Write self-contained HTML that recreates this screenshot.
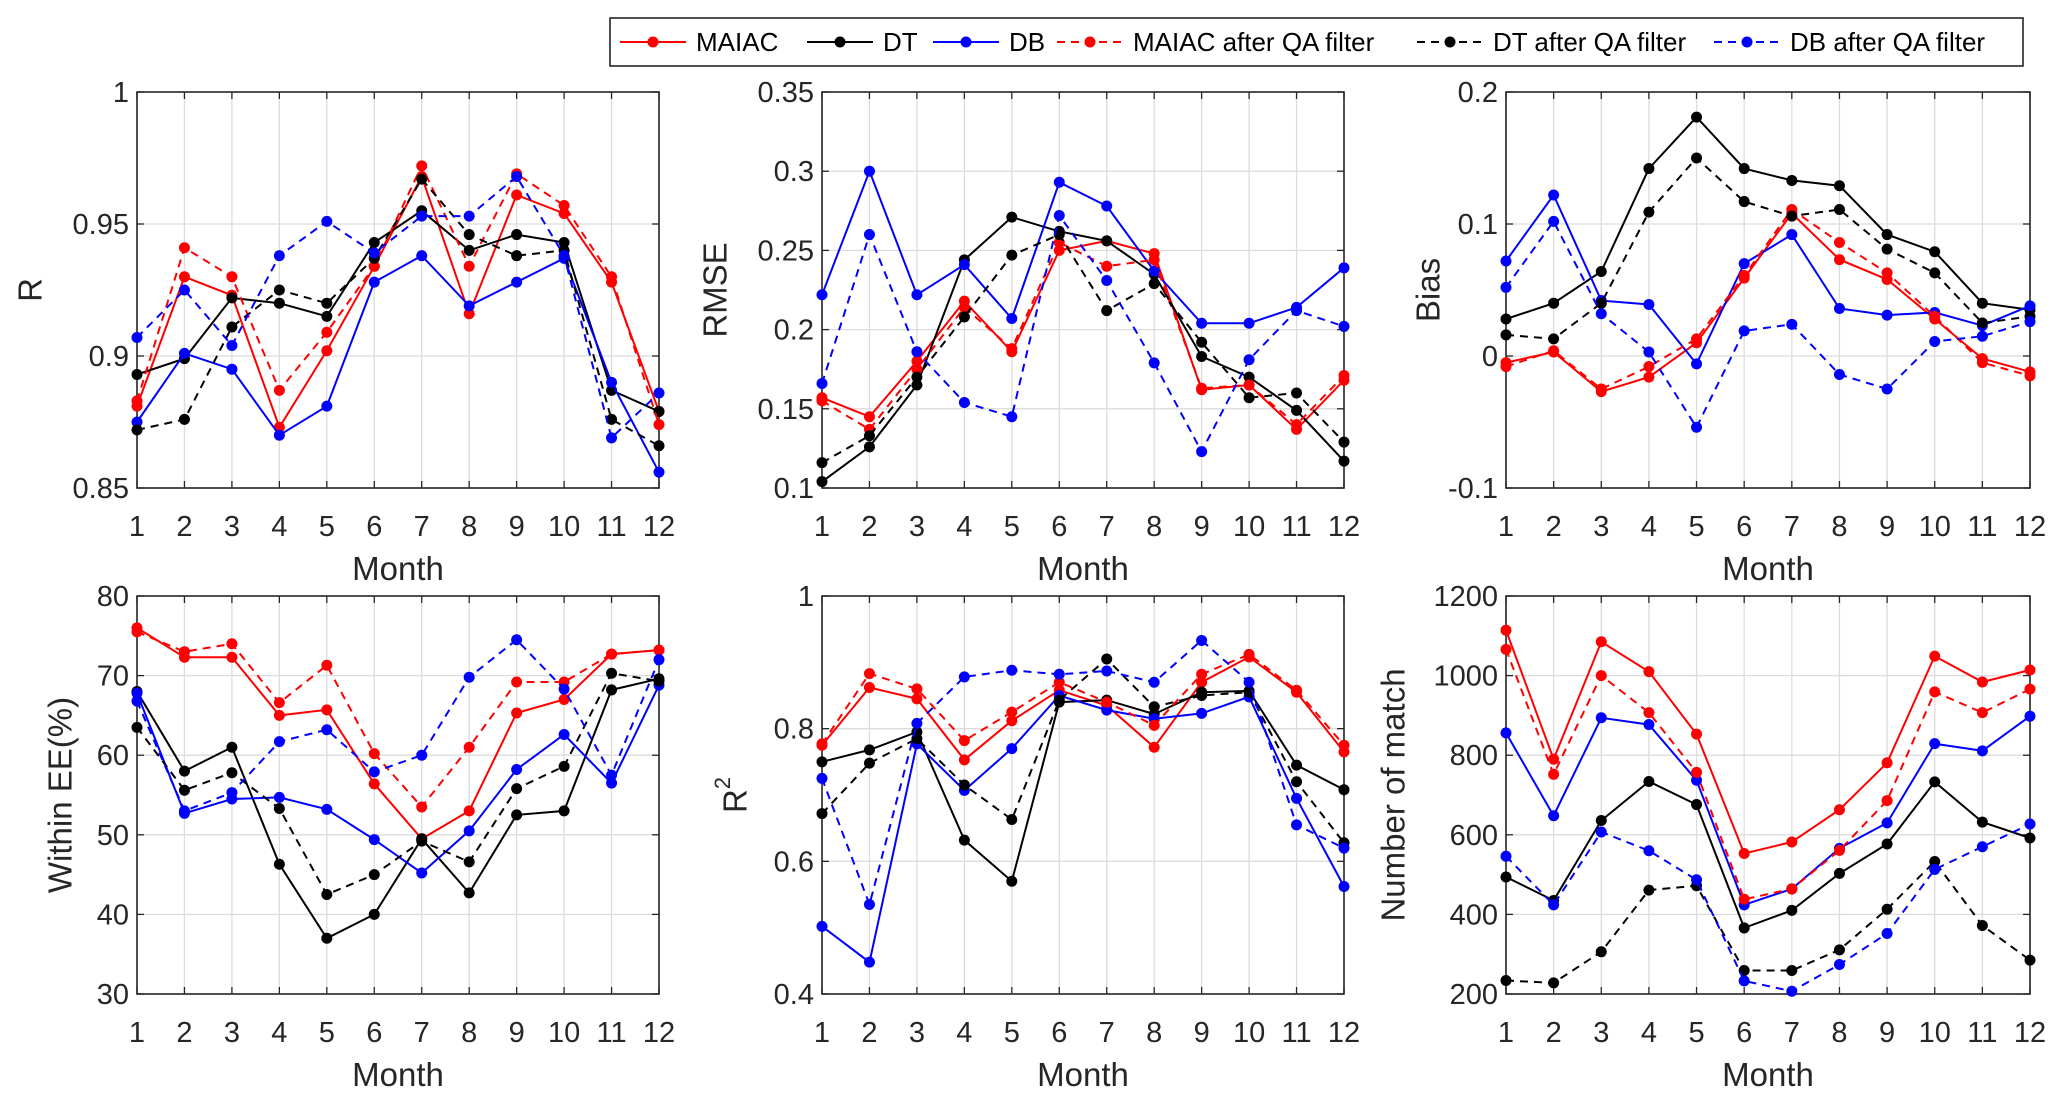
<!DOCTYPE html>
<html><head><meta charset="utf-8"><style>
html,body{margin:0;padding:0;background:#fff}
svg{display:block;font-family:"Liberation Sans",Arial,sans-serif}
</style></head><body>
<svg id="fig" width="2067" height="1103" viewBox="0 0 2067 1103" xmlns="http://www.w3.org/2000/svg"></svg>
<script>
const months = [1,2,3,4,5,6,7,8,9,10,11,12];
const seriesNames = ["MAIAC","DT","DB","MAIAC after QA filter","DT after QA filter","DB after QA filter"];
// R
const rMaiac  = [0.881,0.930,0.923,0.873,0.902,0.934,0.968,0.916,0.961,0.954,0.928,0.879];
const rDt     = [0.893,0.899,0.922,0.920,0.915,0.943,0.955,0.940,0.946,0.943,0.887,0.879];
const rDb     = [0.875,0.901,0.895,0.870,0.881,0.928,0.938,0.919,0.928,0.937,0.890,0.856];
const rMaiacQ = [0.883,0.941,0.930,0.887,0.909,0.934,0.972,0.934,0.969,0.957,0.930,0.874];
const rDtQ    = [0.872,0.876,0.911,0.925,0.920,0.937,0.967,0.946,0.938,0.940,0.876,0.866];
const rDbQ    = [0.907,0.925,0.904,0.938,0.951,0.939,0.953,0.953,0.968,0.938,0.869,0.886];
// RMSE
const rmseMaiac  = [0.157,0.145,0.180,0.218,0.186,0.250,0.256,0.248,0.162,0.165,0.137,0.168];
const rmseDt     = [0.104,0.126,0.165,0.244,0.271,0.262,0.256,0.235,0.183,0.170,0.149,0.117];
const rmseDb     = [0.222,0.300,0.222,0.241,0.207,0.293,0.278,0.237,0.204,0.204,0.214,0.239];
const rmseMaiacQ = [0.155,0.137,0.175,0.214,0.188,0.255,0.240,0.244,0.163,0.165,0.140,0.171];
const rmseDtQ    = [0.116,0.133,0.170,0.208,0.247,0.260,0.212,0.229,0.192,0.157,0.160,0.129];
const rmseDbQ    = [0.166,0.260,0.186,0.154,0.145,0.272,0.231,0.179,0.123,0.181,0.212,0.202];
// Bias
const biasMaiac  = [-0.005,0.003,-0.027,-0.016,0.010,0.059,0.108,0.073,0.058,0.028,-0.002,-0.012];
const biasDt     = [0.028,0.040,0.064,0.142,0.181,0.142,0.133,0.129,0.092,0.079,0.040,0.035];
const biasDb     = [0.072,0.122,0.042,0.039,-0.006,0.070,0.092,0.036,0.031,0.033,0.023,0.038];
const biasMaiacQ = [-0.008,0.004,-0.025,-0.008,0.013,0.061,0.111,0.086,0.063,0.030,-0.005,-0.015];
const biasDtQ    = [0.016,0.013,0.040,0.109,0.150,0.117,0.106,0.111,0.081,0.063,0.025,0.030];
const biasDbQ    = [0.052,0.102,0.032,0.003,-0.054,0.019,0.024,-0.014,-0.025,0.011,0.015,0.026];
// Within EE
const eeMaiac  = [76,72.3,72.3,65,65.7,56.4,49.5,53,65.3,67,72.7,73.2];
const eeDt     = [68,58,61,46.3,37,40,49.5,42.7,52.5,53,68.2,69.6];
const eeDb     = [67.8,52.7,54.5,54.7,53.2,49.4,45.2,50.5,58.2,62.6,56.5,68.8];
const eeMaiacQ = [75.5,73,74,66.6,71.3,60.2,53.5,61,69.2,69.2,72.7,73.2];
const eeDtQ    = [63.5,55.6,57.8,53.3,42.5,45,49.2,46.6,55.8,58.6,70.3,69.3];
const eeDbQ    = [66.8,53,55.3,61.7,63.2,57.9,60,69.8,74.5,68.3,57.5,72];
// R2
const r2Maiac  = [0.775,0.862,0.845,0.753,0.812,0.858,0.835,0.772,0.870,0.908,0.855,0.765];
const r2Dt     = [0.750,0.768,0.795,0.632,0.570,0.840,0.843,0.822,0.855,0.857,0.745,0.708];
const r2Db     = [0.502,0.448,0.777,0.707,0.770,0.850,0.828,0.815,0.823,0.848,0.695,0.562];
const r2MaiacQ = [0.777,0.883,0.860,0.782,0.825,0.870,0.840,0.805,0.882,0.912,0.858,0.775];
const r2DtQ    = [0.672,0.748,0.785,0.715,0.663,0.843,0.905,0.833,0.850,0.855,0.720,0.628];
const r2DbQ    = [0.725,0.535,0.808,0.878,0.888,0.882,0.887,0.870,0.933,0.870,0.655,0.620];
// Number of match
const nMaiac  = [1114,790,1085,1010,853,553,582,663,781,1049,984,1014];
const nDt     = [494,435,636,734,676,366,410,503,577,733,632,592];
const nDb     = [856,648,894,877,737,424,464,566,630,829,811,898];
const nMaiacQ = [1066,752,1000,907,757,438,464,561,686,959,907,966];
const nDtQ    = [234,228,306,461,472,259,259,311,413,533,372,285];
const nDbQ    = [546,424,607,560,487,233,207,274,352,513,570,627];

const yTicksR = ["0.85","0.9","0.95","1"];
const yTicksRmse = ["0.1","0.15","0.2","0.25","0.3","0.35"];
const yTicksBias = ["-0.1","0","0.1","0.2"];
const yTicksEE = ["30","40","50","60","70","80"];
const yTicksR2 = ["0.4","0.6","0.8","1"];
const yTicksN = ["200","400","600","800","1000","1200"];

const NS="http://www.w3.org/2000/svg";
const svg=document.getElementById('fig');
function mk(tag,attrs,parent){const e=document.createElementNS(NS,tag);for(const k in attrs)e.setAttribute(k,attrs[k]);(parent||svg).appendChild(e);return e;}
const styles=[{c:"#ff0000",d:""},{c:"#000000",d:""},{c:"#0000ff",d:""},{c:"#ff0000",d:"8,6"},{c:"#000000",d:"8,6"},{c:"#0000ff",d:"8,6"}];

const panels=[
 {key:"r",x0:137,x1:659,y0:92,y1:488,min:0.85,max:1,ticks:yTicksR,label:"R",lx:30,sets:[rMaiac,rDt,rDb,rMaiacQ,rDtQ,rDbQ]},
 {key:"rmse",x0:822,x1:1344,y0:92,y1:488,min:0.1,max:0.35,ticks:yTicksRmse,label:"RMSE",lx:715,sets:[rmseMaiac,rmseDt,rmseDb,rmseMaiacQ,rmseDtQ,rmseDbQ]},
 {key:"bias",x0:1506,x1:2030,y0:92,y1:488,min:-0.1,max:0.2,ticks:yTicksBias,label:"Bias",lx:1428,sets:[biasMaiac,biasDt,biasDb,biasMaiacQ,biasDtQ,biasDbQ]},
 {key:"ee",x0:137,x1:659,y0:596,y1:994,min:30,max:80,ticks:yTicksEE,label:"Within EE(%)",lx:60,sets:[eeMaiac,eeDt,eeDb,eeMaiacQ,eeDtQ,eeDbQ]},
 {key:"r2",x0:822,x1:1344,y0:596,y1:994,min:0.4,max:1,ticks:yTicksR2,label:"R2",lx:735,sets:[r2Maiac,r2Dt,r2Db,r2MaiacQ,r2DtQ,r2DbQ]},
 {key:"nmatch",x0:1506,x1:2030,y0:596,y1:994,min:200,max:1200,ticks:yTicksN,label:"Number of match",lx:1393,sets:[nMaiac,nDt,nDb,nMaiacQ,nDtQ,nDbQ]}
];
const seriesKeys=["maiac","dt","db","maiac-qa","dt-qa","db-qa"];

panels.forEach(p=>{
  const g=mk('g',{});
  
  
  const xs=m=>p.x0+(m-1)/11*(p.x1-p.x0);
  const ys=v=>p.y1-(v-p.min)/(p.max-p.min)*(p.y1-p.y0);
  mk('rect',{x:p.x0,y:p.y0,width:p.x1-p.x0,height:p.y1-p.y0,fill:"#fff"},g);
  months.forEach(m=>{
    const x=xs(m);
    mk('line',{x1:x,x2:x,y1:p.y0,y2:p.y1,stroke:"#dcdcdc","stroke-width":1.3},g);
    mk('line',{x1:x,x2:x,y1:p.y1,y2:p.y1-7,stroke:"#262626","stroke-width":1.3},g);
    mk('line',{x1:x,x2:x,y1:p.y0,y2:p.y0+7,stroke:"#262626","stroke-width":1.3},g);
    const t=mk('text',{x:x,y:p.y1+48,"text-anchor":"middle","font-size":29,fill:"#262626"},g);
    t.textContent=m;
    
    
  });
  p.ticks.forEach(tv=>{
    const y=ys(parseFloat(tv));
    mk('line',{x1:p.x0,x2:p.x1,y1:y,y2:y,stroke:"#dcdcdc","stroke-width":1.3},g);
    mk('line',{x1:p.x0,x2:p.x0+7,y1:y,y2:y,stroke:"#262626","stroke-width":1.3},g);
    mk('line',{x1:p.x1,x2:p.x1-7,y1:y,y2:y,stroke:"#262626","stroke-width":1.3},g);
    const t=mk('text',{x:p.x0-8,y:y+10,"text-anchor":"end","font-size":29,fill:"#262626"},g);
    t.textContent=tv;
    
    
  });
  mk('rect',{x:p.x0,y:p.y0,width:p.x1-p.x0,height:p.y1-p.y0,fill:"none",stroke:"#262626","stroke-width":1.6},g);
  const xl=mk('text',{x:(p.x0+p.x1)/2,y:p.y1+92,"text-anchor":"middle","font-size":33,fill:"#262626"},g);
  xl.textContent="Month";
  
  
  const cy=(p.y0+p.y1)/2;
  const yl=mk('text',{x:p.lx,y:cy,"text-anchor":"middle","font-size":33,fill:"#262626",transform:`rotate(-90 ${p.lx} ${cy})`,"dominant-baseline":"central"},g);
  if(p.label==="R2"){yl.textContent="R";const s=mk('tspan',{"font-size":22,dy:-13},yl);s.textContent="2";}
  else yl.textContent=p.label;
  
  
  p.sets.forEach((vals,i)=>{
    const st=styles[i];
    const sg=mk('g',{},g);
    
    
    const pts=vals.map((v,k)=>xs(months[k]).toFixed(1)+","+ys(v).toFixed(1)).join(" ");
    const pl=mk('polyline',{points:pts,fill:"none",stroke:st.c,"stroke-width":2,"stroke-dasharray":st.d},sg);
    
    
    vals.forEach((v,k)=>{
      const c=mk('circle',{cx:xs(months[k]),cy:ys(v),r:5.5,fill:st.c},sg);
      
      
    });
  });
});

// legend
const lg=mk('g',{});


mk('rect',{x:610,y:18,width:1413,height:48,fill:"#fff",stroke:"#262626","stroke-width":1.6},lg);
const lx=[620,807,933,1057,1417,1714];
seriesNames.forEach((n,i)=>{
  const st=styles[i];
  const e=mk('g',{},lg);
  
  
  mk('line',{x1:lx[i],x2:lx[i]+66,y1:42,y2:42,stroke:st.c,"stroke-width":2,"stroke-dasharray":st.d},e);
  mk('circle',{cx:lx[i]+33,cy:42,r:5.5,fill:st.c},e);
  const t=mk('text',{x:lx[i]+76,y:51,"font-size":26,fill:"#000"},e);
  t.textContent=n;
});
</script>
</body></html>
